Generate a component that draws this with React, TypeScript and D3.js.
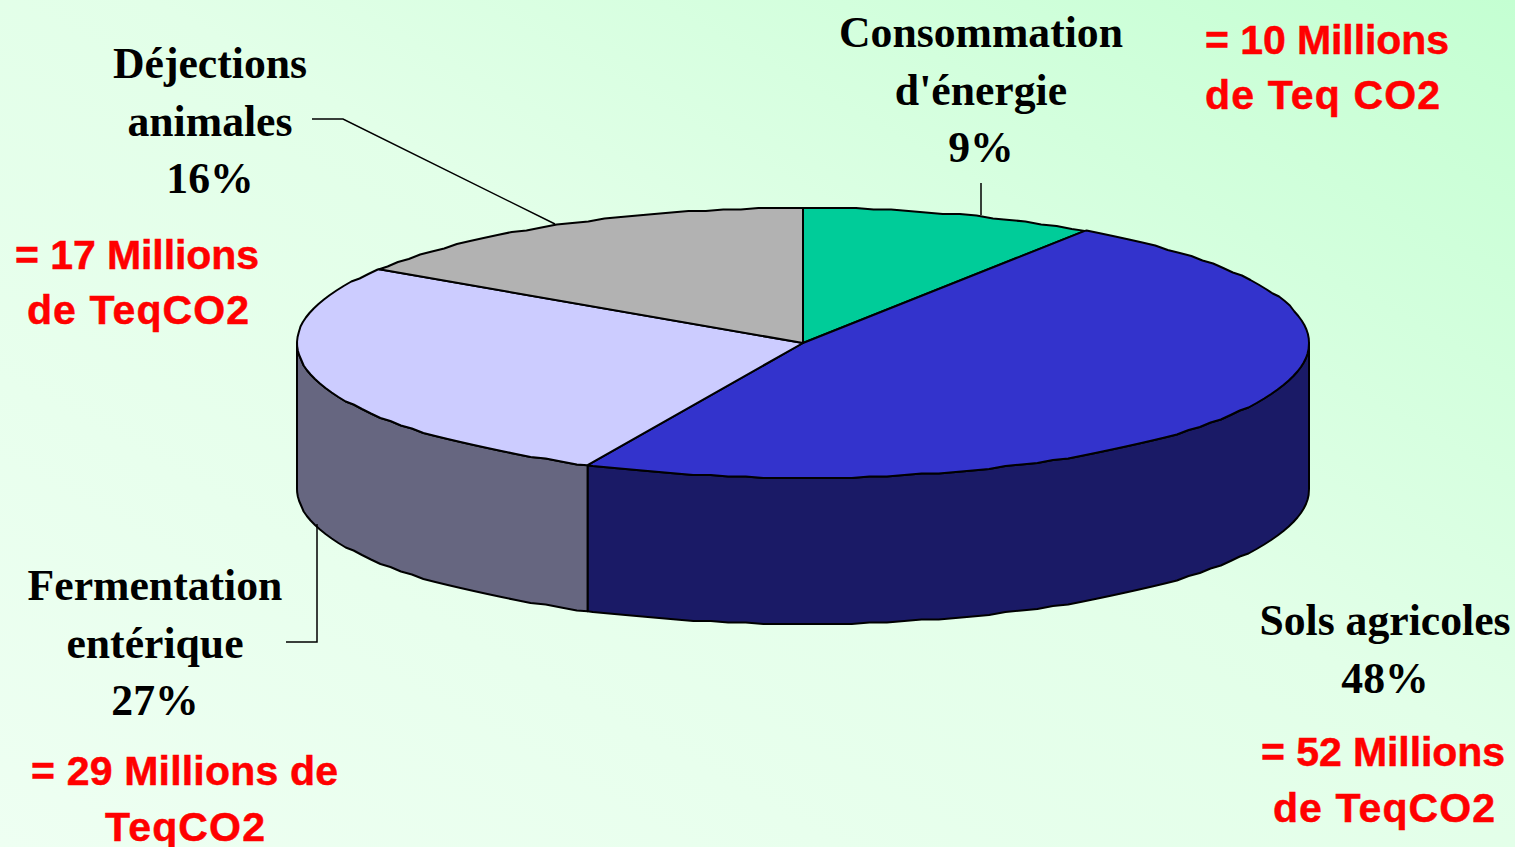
import React from "react";
import * as d3 from "d3";

const categories = ["Consommation d'énergie", "Sols agricoles", "Fermentation entérique", "Déjections animales"];
const drawnShares = [9.4, 47.6, 27.2, 15.8];
const topColors = ["#00cc99", "#3333cc", "#ccccff", "#b2b2b2"];
const sideColors = ["#006650", "#1a1a66", "#666680", "#595959"];

const blackLabels = [
  { lines: ["Consommation", "d'énergie", "9%"], x: 981, y: 47 },
  { lines: ["Déjections", "animales", "16%"], x: 210, y: 78 },
  { lines: ["Fermentation", "entérique", "27%"], x: 155, y: 600 },
  { lines: ["Sols agricoles", "48%"], x: 1385, y: 635 },
];
const redLabels = [
  { lines: ["= 10 Millions", "de Teq CO2"], xs: [1205, 1205], widths: [244, 235], y: 54, dy: 55 },
  { lines: ["= 17 Millions", "de TeqCO2"], xs: [15, 27], widths: [244, 222], y: 269, dy: 55 },
  { lines: ["= 29 Millions de", "TeqCO2"], xs: [31, 105], widths: [307, 160], y: 785, dy: 56 },
  { lines: ["= 52 Millions", "de TeqCO2"], xs: [1261, 1273], widths: [244, 222], y: 766, dy: 56 },
];
const leaders = [
  [[312, 119], [343, 119], [555, 224]],
  [[981, 183], [981, 215]],
  [[286, 642], [317, 642], [317, 524]],
];

const W = 1515, H = 847;
const cx = 803, cy = 343, rx = 506, ry = 135, depth = 146;
const STEP = 0.035;
const GRID = 1.5;

const snap = (v: number) => Math.round(v / GRID) * GRID;
const pt = (a: number, dz = 0): [number, number] => [cx + rx * Math.sin(a), cy - ry * Math.cos(a) + dz];
// One shared angular grid, so that the disc rim and the wall's top edge coincide
const arcPts = (a0: number, a1: number, dz = 0): [number, number][] => {
  const inner = d3.range(Math.ceil(a0 / STEP + 0.01), a1 / STEP).map((k) => k * STEP);
  const mid = inner.map((a) => {
    const [x, y] = pt(a);
    return [x, snap(y - cy) + cy + dz] as [number, number];
  });
  return [pt(a0, dz), ...mid, pt(a1, dz)];
};
const line = d3.line();

export default function App() {
  const arcs = d3.pie<number>().sort(null).startAngle(0).endAngle(2 * Math.PI)(drawnShares);
  const RIGHT = Math.PI / 2, LEFT = 1.5 * Math.PI;
  return (
    <svg width={W} height={H} style={{ position: "fixed", left: 0, top: 0, display: "block" }}>
      <defs>
        <linearGradient id="bg" x1="0" y1="1" x2="1" y2="0">
          <stop offset="0" stopColor="#eefff2" />
          <stop offset="0.55" stopColor="#e2ffe8" />
          <stop offset="1" stopColor="#c4ffd2" />
        </linearGradient>
      </defs>
      <rect x={0} y={0} width={W} height={H} fill="url(#bg)" />
      {arcs.map((d, i) => {
        const a0 = Math.max(d.startAngle, RIGHT), a1 = Math.min(d.endAngle, LEFT);
        if (a1 <= a0) return null;
        const top = arcPts(a0, a1);
        const bot = arcPts(a0, a1, depth).reverse();
        return <path key={categories[i] + "side"} d={line([...top, ...bot])! + "Z"} fill={sideColors[i]} stroke="#000" strokeWidth={2} strokeLinejoin="round" />;
      })}
      {arcs.map((d, i) => (
        <path key={categories[i]} d={line([[cx, cy], ...arcPts(d.startAngle, d.endAngle)])! + "Z"} fill={topColors[i]} stroke="#000" strokeWidth={2} strokeLinejoin="round" />
      ))}
      {leaders.map((l, i) => (
        <path key={i} d={line(l as [number, number][])!} fill="none" stroke="#000" strokeWidth={1.5} />
      ))}
      {blackLabels.map((l) =>
        l.lines.map((t, j) => (
          <text key={t} x={l.x} y={l.y + j * 57.7} textAnchor="middle" fontFamily="'Liberation Serif', serif" fontWeight="bold" fontSize={43.7} fill="#000">{t}</text>
        ))
      )}
      {redLabels.map((l) =>
        l.lines.map((t, j) => (
          <text key={t} x={l.xs[j]} y={l.y + j * l.dy} textLength={l.widths[j]} lengthAdjust="spacing" fontFamily="'Liberation Sans', sans-serif" fontWeight="bold" fontSize={41} fill="#ff0000" stroke="#ff0000" strokeWidth={0.5}>{t}</text>
        ))
      )}
    </svg>
  );
}
